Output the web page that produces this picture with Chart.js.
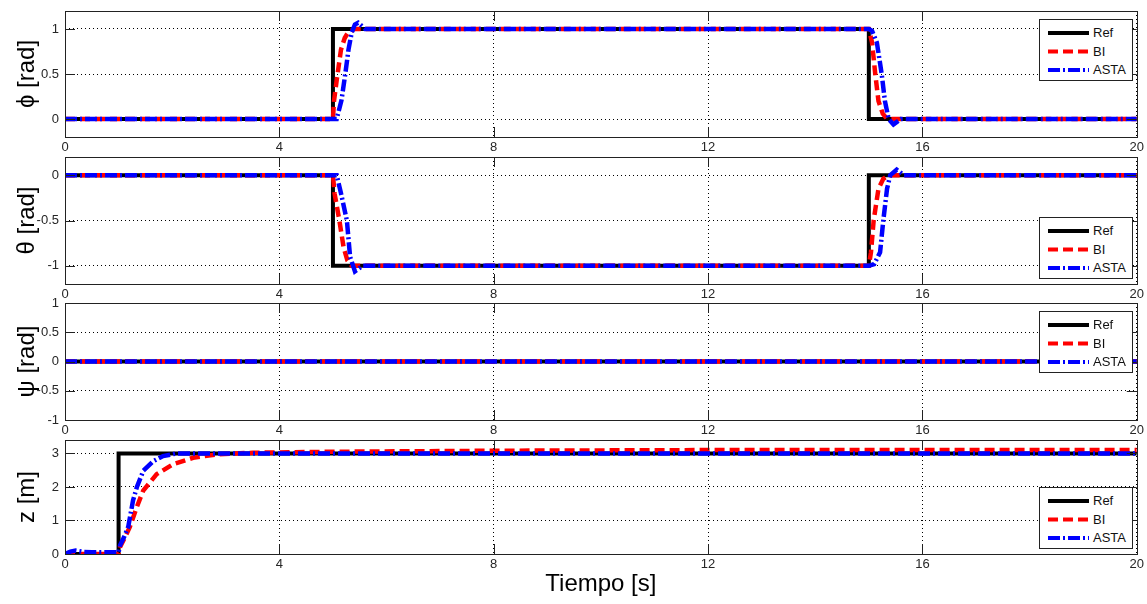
<!DOCTYPE html>
<html>
<head>
<meta charset="utf-8">
<script src="https://cdn.jsdelivr.net/npm/chart.js@4.4.1/dist/chart.umd.min.js"></script>
<style>
  body { margin: 0; background: #fff; width: 1147px; height: 604px; position: relative; overflow: hidden;
         font-family: "Liberation Sans", Arial, sans-serif; }
  canvas { position: absolute; left: 0; }
  .leg { position: absolute; left: 1039px; width: 94px; height: 62px; border: 1px solid #222;
         background: #fff; box-sizing: border-box; }
  .leg svg { position: absolute; left: 0; top: 0; }
  .leg span { position: absolute; left: 53px; font-size: 13px; line-height: 14px; color: #111; }
</style>
</head>
<body>
<canvas id="c1" width="1147" height="159"></canvas>
<canvas id="c2" width="1147" height="160"></canvas>
<canvas id="c3" width="1147" height="150"></canvas>
<canvas id="c4" width="1147" height="175"></canvas>

<script>
// x axis (time, s)
const xTicks = [0, 4, 8, 12, 16, 20];
const seriesNames = ["Ref", "BI", "ASTA"];

// phi
const phiTicks = [0, 0.5, 1];
const phiRefT = [0, 5, 5, 15, 15, 20];
const phiRefY = [0, 0, 1, 1, 0, 0];
const phiBiT = [0, 5.0, 5.02, 5.07, 5.15, 5.22, 5.28, 5.4, 15.0, 15.06, 15.12, 15.18, 15.26, 15.33, 15.4, 20];
const phiBiY = [0, 0, 0.2, 0.43, 0.77, 0.9, 0.96, 1, 1, 0.85, 0.5, 0.2, 0.06, 0.01, 0, 0];
const phiAstaT = [0, 5.07, 5.16, 5.23, 5.29, 5.35, 5.41, 5.47, 5.6, 15.0, 15.06, 15.15, 15.24, 15.3, 15.37, 15.46, 15.6, 20];
const phiAstaY = [0, 0, 0.21, 0.5, 0.77, 0.96, 1.05, 1.07, 1, 1, 0.98, 0.85, 0.5, 0.2, 0, -0.06, 0, 0];

// theta
const thetaTicks = [-1, -0.5, 0];
const thetaRefT = [0, 5, 5, 15, 15, 20];
const thetaRefY = [0, 0, -1, -1, 0, 0];
const thetaBiT = [0, 5.0, 5.03, 5.12, 5.2, 5.27, 5.35, 15.0, 15.04, 15.09, 15.18, 15.27, 15.37, 20];
const thetaBiY = [0, 0, -0.2, -0.5, -0.8, -0.94, -1, -1, -0.85, -0.5, -0.15, -0.04, 0, 0];
const thetaAstaT = [0, 5.07, 5.15, 5.26, 5.32, 5.41, 5.55, 15.0, 15.1, 15.21, 15.27, 15.34, 15.4, 15.52, 15.65, 20];
const thetaAstaY = [0, 0, -0.2, -0.5, -0.9, -1.06, -1, -1, -0.98, -0.85, -0.5, -0.15, 0, 0.06, 0, 0];

// psi
const psiTicks = [-1, -0.5, 0, 0.5, 1];
const psiRefT = [0, 20];
const psiRefY = [0, 0];
const psiBiT = [0, 20];
const psiBiY = [0, 0];
const psiAstaT = [0, 20];
const psiAstaY = [0, 0];

// z
const zTicks = [0, 1, 2, 3];
const zRefT = [0, 1, 1, 20];
const zRefY = [0, 0, 3, 3];
const zBiT = [0, 1.0, 1.03, 1.12, 1.21, 1.34, 1.46, 1.71, 2.02, 2.39, 2.83, 3.5, 5, 8, 12, 20];
const zBiY = [0, 0, 0.22, 0.5, 0.81, 1.4, 1.89, 2.38, 2.68, 2.87, 2.97, 3.02, 3.05, 3.08, 3.1, 3.1];
const zAstaT = [0, 0.1, 0.2, 0.35, 0.5, 1.0, 1.03, 1.1, 1.18, 1.27, 1.34, 1.46, 1.65, 1.83, 2.08, 20];
const zAstaY = [0, 0.07, 0.1, 0.06, 0.05, 0.05, 0.27, 0.5, 0.81, 1.6, 1.99, 2.48, 2.77, 2.92, 3.0, 3.0];

// Ref at the back, ASTA on top
const styles = [
  { color: "#000000", dash: [], svgDash: "", width: 4, order: 3 },
  { color: "#ff0000", dash: [10, 5], svgDash: "10 5", width: 4.5, order: 2 },
  { color: "#0000ff", dash: [12, 3, 2, 3], svgDash: "12 3 2 3", width: 4.5, order: 1 },
];

const panels = [
  { id: "c1", top: 0, xH: 22, yMin: -0.2, yMax: 1.2, yTicks: phiTicks, title: "ϕ [rad]", legTop: 19,
    data: [[phiRefT, phiRefY], [phiBiT, phiBiY], [phiAstaT, phiAstaY]] },
  { id: "c2", top: 146, xH: 22, yMin: -1.2, yMax: 0.2, yTicks: thetaTicks, title: "θ [rad]", legTop: 217,
    data: [[thetaRefT, thetaRefY], [thetaBiT, thetaBiY], [thetaAstaT, thetaAstaY]] },
  { id: "c3", top: 292, xH: 22, yMin: -1, yMax: 1, yTicks: psiTicks, title: "ψ [rad]", legTop: 311,
    data: [[psiRefT, psiRefY], [psiBiT, psiBiY], [psiAstaT, psiAstaY]] },
  { id: "c4", top: 429, xH: 50, yMin: 0, yMax: 3.4, yTicks: zTicks, title: "z [m]", legTop: 487, xTitle: "Tiempo [s]",
    data: [[zRefT, zRefY], [zBiT, zBiY], [zAstaT, zAstaY]] },
];

const font = "'Liberation Sans', Arial, sans-serif";

// axes box + inward ticks, like matlab
const boxPlugin = {
  id: "box",
  afterDatasetsDraw(chart) {
    const { ctx, chartArea: a, scales } = chart;
    ctx.save();
    ctx.strokeStyle = "#222";
    ctx.lineWidth = 1;
    ctx.strokeRect(Math.round(a.left) + 0.5, Math.round(a.top) + 0.5,
      Math.round(a.right - a.left), Math.round(a.bottom - a.top));
    ctx.beginPath();
    const tl = 10;
    scales.x.ticks.forEach((t) => {
      const px = Math.round(scales.x.getPixelForValue(t.value)) + 0.5;
      ctx.moveTo(px, a.bottom); ctx.lineTo(px, a.bottom - tl);
      ctx.moveTo(px, a.top); ctx.lineTo(px, a.top + tl);
    });
    scales.y.ticks.forEach((t) => {
      const py = Math.round(scales.y.getPixelForValue(t.value)) + 0.5;
      ctx.moveTo(a.left, py); ctx.lineTo(a.left + tl, py);
      ctx.moveTo(a.right, py); ctx.lineTo(a.right - tl, py);
    });
    ctx.stroke();
    ctx.restore();
  },
};

panels.forEach((p) => {
  const cv = document.getElementById(p.id);
  cv.style.top = p.top + "px";

  const datasets = p.data.map((d, i) => ({
    label: seriesNames[i],
    data: d[0].map((t, j) => ({ x: t, y: d[1][j] })),
    borderColor: styles[i].color,
    borderDash: styles[i].dash,
    borderWidth: styles[i].width,
    order: styles[i].order,
    pointRadius: 0,
    tension: 0,
    fill: false,
    borderCapStyle: "butt",
  }));

  new Chart(cv, {
    type: "line",
    data: { datasets },
    plugins: [boxPlugin],
    options: {
      responsive: false,
      animation: false,
      events: [],
      layout: { padding: { top: 11, right: 10, left: 0, bottom: 0 } },
      plugins: { legend: { display: false }, tooltip: { enabled: false } },
      scales: {
        x: {
          type: "linear",
          min: 0,
          max: 20,
          afterBuildTicks: (s) => { s.ticks = xTicks.map((v) => ({ value: v })); },
          afterFit: (s) => { s.height = p.xH; },
          grid: { color: "#000", lineWidth: 1, drawTicks: false },
          border: { display: false, dash: [1, 3] },
          ticks: { padding: 3, color: "#262626", font: { family: font, size: 13 }, maxRotation: 0,
                   callback: (v) => String(v) },
          title: {
            display: !!p.xTitle,
            text: p.xTitle || "",
            color: "#000",
            font: { family: font, size: 24 },
            padding: { top: 0, bottom: 5 },
          },
        },
        y: {
          type: "linear",
          min: p.yMin,
          max: p.yMax,
          afterBuildTicks: (s) => { s.ticks = p.yTicks.map((v) => ({ value: v })); },
          afterFit: (s) => { s.width = 65; s.paddingTop = 0; s.paddingBottom = 0; },
          grid: { color: "#000", lineWidth: 1, drawTicks: false },
          border: { display: false, dash: [1, 3] },
          ticks: { padding: 6, color: "#262626", font: { family: font, size: 13 },
                   callback: (v) => String(v) },
          title: {
            display: true,
            text: p.title,
            color: "#000",
            font: { family: font, size: 24 },
            padding: { top: 13, bottom: 0 },
          },
        },
      },
    },
  });

  // legend box inside the axes
  const leg = document.createElement("div");
  leg.className = "leg";
  leg.style.top = p.legTop + "px";
  let svg = '<svg width="94" height="62">';
  const rows = [13, 31.5, 50];
  styles.forEach((st, i) => {
    svg += '<line x1="8" x2="49" y1="' + rows[i] + '" y2="' + rows[i] + '" stroke="' + st.color +
      '" stroke-width="4"' + (st.svgDash ? ' stroke-dasharray="' + st.svgDash + '"' : "") + "/>";
  });
  svg += "</svg>";
  leg.innerHTML = svg + seriesNames.map((n, i) =>
    '<span style="top:' + (rows[i] - 7) + 'px">' + n + "</span>").join("");
  document.body.appendChild(leg);
});
</script>
</body>
</html>
